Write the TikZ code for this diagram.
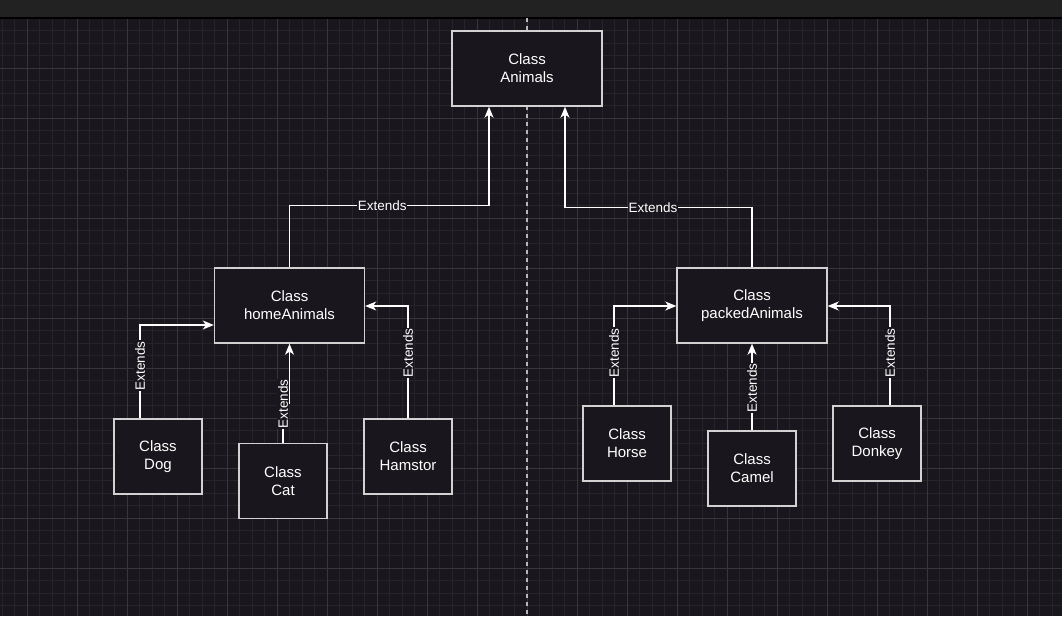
\documentclass[tikz,border=0pt]{standalone}
\usepackage{fontspec}
\setmainfont{Liberation Sans}
\usetikzlibrary{arrows.meta,calc}
\definecolor{bg}{HTML}{19171D}
\definecolor{gminor}{HTML}{26232B}
\definecolor{gmajor}{HTML}{38353D}
\definecolor{topbar}{HTML}{222222}
\definecolor{boxline}{HTML}{D2D2D2}
\definecolor{dashcol}{HTML}{B8B8B8}
\tikzset{
  classbox/.style={draw=boxline, line width=1.4pt, fill=bg, text=white, align=center,
    minimum width=150pt, minimum height=75pt, inner sep=0pt,
    font=\fontsize{15}{18}\selectfont},
  smallbox/.style={classbox, minimum width=88pt},
  arr/.style={draw=white, line width=1.2pt,
    -{Stealth[length=11pt,width=9pt,inset=3pt]}},
  lbl/.style={fill=bg, text=white, inner sep=0.8pt,
    font=\fontsize{13.5}{15}\selectfont},
  rot/.style={rotate=90},
  minorline/.style={draw=gminor, line width=0.8pt},
  majorline/.style={draw=gmajor, line width=1pt},
}
\begin{document}
\begin{tikzpicture}[x=1pt,y=-1pt]
\useasboundingbox (0,0) rectangle (1062,616);
% background
\fill[bg] (0,0) rectangle (1062,616);
\foreach \i in {0,...,85} {\draw[minorline] ({2+12.5*\i},18) -- ({2+12.5*\i},616);}
\foreach \j in {0,...,48} {\draw[minorline] (0,{18+12.5*\j}) -- (1062,{18+12.5*\j});}
\foreach \i in {0,...,21} {\draw[majorline] ({27+50*\i},18) -- ({27+50*\i},616);}
\foreach \j in {0,...,12} {\draw[majorline] (0,{18+50*\j}) -- (1062,{18+50*\j});}
\fill[topbar] (0,0) rectangle (1062,17.5);
\draw[black, line width=1.5pt] (0,18) -- (1062,18);
\draw[dashcol, line width=1.2pt, dash pattern=on 4pt off 4pt] (527,18) -- (527,616);
% nodes
\node[classbox] (animals) at (527,68.5) {Class\\Animals};
\node[classbox] (home) at (289.5,305.5) {Class\\homeAnimals};
\node[classbox] (pack) at (752,305.5) {Class\\packedAnimals};
\node[smallbox] (dog) at (158,456.5) {Class\\Dog};
\node[smallbox] (cat) at (283,481) {Class\\Cat};
\node[smallbox] (ham) at (408,456.5) {Class\\Hamstor};
\node[smallbox] (horse) at (627,443.5) {Class\\Horse};
\node[smallbox] (camel) at (752,468.5) {Class\\Camel};
\node[smallbox] (donkey) at (877,443.5) {Class\\Donkey};
\coordinate (a1) at ([xshift=-38pt]animals.south);
\coordinate (a2) at ([xshift=38pt]animals.south);
% connectors
\draw[arr] (home.north) -- ++(0,-62) coordinate (h1)
  -- node[lbl,pos=0.465]{Extends} (h1 -| a1) -- (a1);
\draw[arr] (pack.north) -- ++(0,-60) coordinate (p1)
  -- node[lbl,pos=0.53]{Extends} (p1 -| a2) -- (a2);
\draw[arr] ([xshift=-18pt]dog.north) |- node[lbl,rot,pos=0.282]{Extends} ([yshift=-19.5pt]home.west);
\draw[arr] (cat.north) -- ++(0,-39) coordinate (c1) -- (c1 -| home.south) -- (home.south);
\node[lbl,rot] (catl) at (c1) {Extends};
\draw[arr] (ham.north) |- node[lbl,rot,pos=0.292]{Extends} ([yshift=-0.5pt]home.east);
\draw[arr] ([xshift=-13pt]horse.north) |- node[lbl,rot,pos=0.265]{Extends} ([yshift=-0.5pt]pack.west);
\draw[arr] (camel.north) -- node[lbl,rot,pos=0.49]{Extends} (pack.south);
\draw[arr] ([xshift=13pt]donkey.north) |- node[lbl,rot,pos=0.265]{Extends} ([yshift=-0.5pt]pack.east);
\end{tikzpicture}
\end{document}
